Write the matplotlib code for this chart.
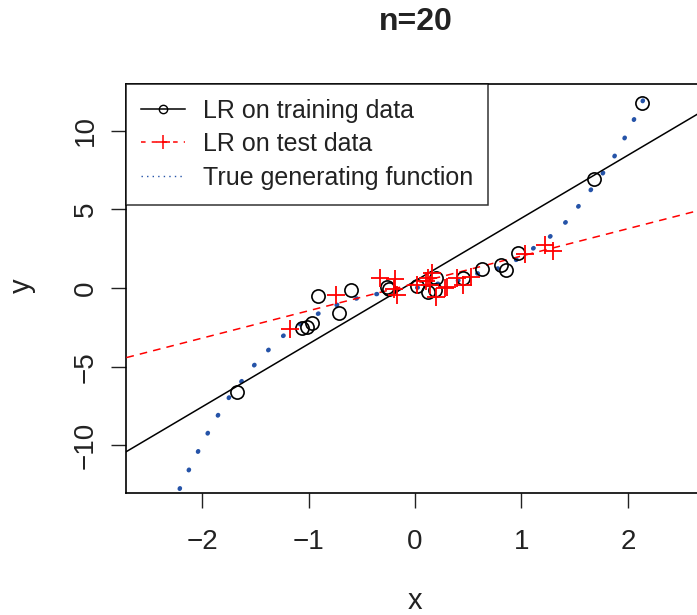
import numpy as np
import matplotlib.pyplot as plt
from matplotlib.lines import Line2D

plt.rcParams['font.family'] = ['Liberation Sans Narrow', 'Liberation Sans', 'DejaVu Sans']

# training sample (circles)
train_x = [-1.67, -1.06, -1.01, -0.97, -0.91, -0.71, -0.60, -0.26, -0.24, 0.02,
           0.12, 0.19, 0.20, 0.45, 0.63, 0.81, 0.85, 0.97, 1.68, 2.13]
train_y = [-6.60, -2.55, -2.48, -2.21, -0.51, -1.59, -0.13, 0.04, -0.05, 0.13,
           -0.24, -0.13, 0.66, 0.66, 1.19, 1.46, 1.15, 2.25, 6.94, 11.76]

# test sample (plus signs)
test_x = [-1.17, -0.74, -0.33, -0.19, -0.20, -0.17, 0.02, 0.10, 0.12, 0.16,
          0.14, 0.20, 0.28, 0.30, 0.39, 0.53, 1.03, 1.22, 1.30, 0.45]
test_y = [-2.57, -0.45, 0.62, 0.55, -0.05, -0.45, 0.19, 0.45, 0.62, 0.94,
          0.19, -0.55, 0.00, 0.05, 0.65, 0.70, 2.20, 2.74, 2.36, 0.20]

# true generating function
true_x = [-2.21, -2.10, -1.99, -1.87, -1.74, -1.51, -1.35, -1.25, -1.16, -0.95,
          -0.85, -0.74, -0.50, -0.32, -0.14, 0.05, 0.23, 0.40, 0.59, 0.75,
          0.92, 1.03, 1.13, 1.24, 1.42, 1.57, 1.72, 1.86, 1.98, 2.09, 2.19]
true_y = [-12.76, -11.23, -9.75, -8.30, -6.88, -4.90, -3.74, -3.10, -2.63, -1.78,
          -1.40, -1.08, -0.55, -0.33, -0.08, 0.05, 0.30, 0.47, 0.94, 1.17,
          1.68, 2.10, 2.63, 3.10, 4.22, 5.50, 6.88, 8.22, 9.68, 11.17, 12.66]

# fitted regression lines: intercept, slope
fit_train = [0.45, 4.00]
fit_test = [0.30, 1.74]

blue = '#2553a8'

fig = plt.figure(figsize=(6.97, 6.15), dpi=100)
ax = fig.add_axes([0.1814, 0.1990, 0.8280, 0.6650])

ax.plot(true_x, true_y, color=blue, lw=3.2, dashes=(0.15, 4.5), dash_capstyle='round', zorder=2)
ax.axline((0, fit_train[0]), slope=fit_train[1], color='black', lw=1.1, zorder=3)
ax.axline((0, fit_test[0]), slope=fit_test[1], color='red', lw=1.1, dashes=(5, 4), zorder=3)
ax.plot(train_x, train_y, 'o', mfc='none', mec='black', ms=9.5, mew=1.2, zorder=4)
ax.plot(test_x, test_y, '+', color='red', ms=13, mew=1.3, zorder=4)

ax.set_xlim(-2.71, 2.71)
ax.set_ylim(-13, 13)
ax.set_xticks([-2, -1, 0, 1, 2])
ax.set_yticks([-10, -5, 0, 5, 10])
for s in ax.spines.values():
    s.set_linewidth(1.2)
ax.tick_params(axis='both', direction='out', length=11, width=1, labelsize=20, colors='#222222')
ax.tick_params(axis='x', pad=15)
ax.tick_params(axis='y', pad=9)
plt.setp(ax.get_yticklabels(), rotation=90, va='center')

h1 = Line2D([], [], color='black', lw=1.1, marker='o', mfc='none', mec='black', ms=6, mew=1)
h2 = Line2D([], [], color='red', lw=1.1, dashes=(3, 4), marker='+', ms=10, mew=1.1)
h3 = Line2D([], [], color=blue, lw=1.0, dashes=(1, 3))
leg = ax.legend([h1, h2, h3], ['LR on training data', 'LR on test data', 'True generating function'],
                loc='upper left', borderaxespad=0, fancybox=False, edgecolor='black',
                handlelength=1.75, handletextpad=0.7, labelspacing=0.38, borderpad=0.6,
                prop={'family': 'Liberation Sans', 'size': 18})
leg.get_frame().set_linewidth(1.1)
for t in leg.get_texts():
    t.set_color('#222222')

fig.text(0.597, 0.964, 'n=20', ha='center', va='center', fontsize=23, fontweight='bold', color='#222222')
fig.text(0.595, 0.022, 'x', ha='center', va='center', fontsize=21, color='#222222')
fig.text(0.032, 0.535, 'y', ha='center', va='center', rotation=90, fontsize=21, color='#222222')

fig.savefig('out.png', dpi=100)
